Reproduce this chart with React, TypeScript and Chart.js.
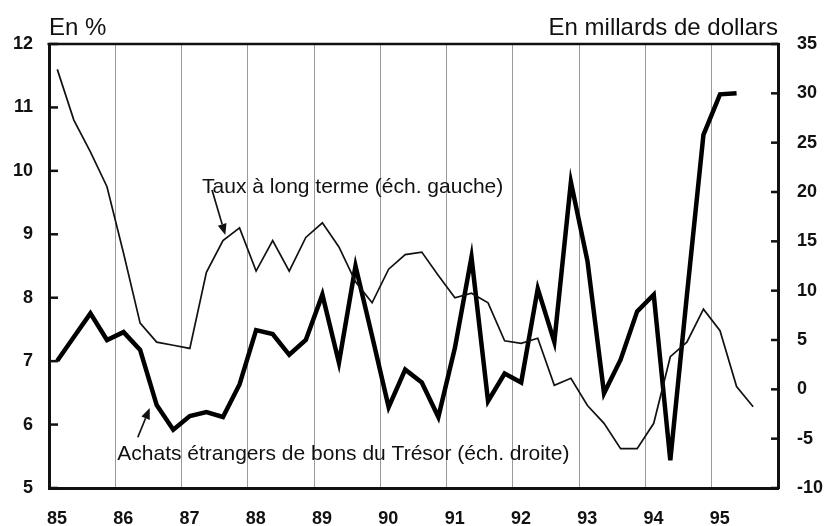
import React, { useEffect, useRef } from 'react';
import { Chart, registerables } from 'chart.js';

Chart.register(...registerables);

// Quarterly observations, 1985 T1 ... 1995 T3
const quarters = [
  '85T1', '85T2', '85T3', '85T4',
  '86T1', '86T2', '86T3', '86T4',
  '87T1', '87T2', '87T3', '87T4',
  '88T1', '88T2', '88T3', '88T4',
  '89T1', '89T2', '89T3', '89T4',
  '90T1', '90T2', '90T3', '90T4',
  '91T1', '91T2', '91T3', '91T4',
  '92T1', '92T2', '92T3', '92T4',
  '93T1', '93T2', '93T3', '93T4',
  '94T1', '94T2', '94T3', '94T4',
  '95T1', '95T2', '95T3',
];

// Taux à long terme (%), échelle de gauche
const longRate = [
  11.6, 10.8, 10.3, 9.75,
  8.7, 7.6, 7.3, 7.25,
  7.2, 8.4, 8.9, 9.1,
  8.42, 8.9, 8.42, 8.95,
  9.18, 8.8, 8.25, 7.92,
  8.45, 8.68, 8.72, 8.35,
  8.0, 8.07, 7.92, 7.32,
  7.28, 7.36, 6.62, 6.73,
  6.3, 6.02, 5.62, 5.62,
  6.02, 7.07, 7.3, 7.82,
  7.48, 6.6, 6.28,
];

// Achats étrangers de bons du Trésor (milliards de dollars), échelle de droite
const foreignPurchases = [
  2.9, 5.3, 7.7, 5.0,
  5.8, 4.0, -1.6, -4.1,
  -2.7, -2.3, -2.8, 0.5,
  6.0, 5.6, 3.5, 5.0,
  9.6, 2.7, 12.5, 5.4,
  -1.8, 2.0, 0.7, -2.8,
  4.2, 13.4, -1.2, 1.6,
  0.7, 10.2, 4.8, 21.0,
  13.0, -0.4, 3.0, 7.9,
  9.6, -7.2, 9.5, 25.8,
  29.9, 30.0,
];

const yearTicks = [85, 86, 87, 88, 89, 90, 91, 92, 93, 94, 95];
const leftTicks = [5, 6, 7, 8, 9, 10, 11, 12];
const rightTicks = [-10, -5, 0, 5, 10, 15, 20, 25, 30, 35];

const FONT = '"Liberation Sans", Arial, Helvetica, sans-serif';

function quarterToX(q: string): number {
  const yr = 1900 + parseInt(q.slice(0, 2), 10);
  const n = parseInt(q.slice(3), 10);
  return yr + (n - 0.5) / 4;
}

function drawArrow(ctx: CanvasRenderingContext2D, x1: number, y1: number, x2: number, y2: number) {
  const ang = Math.atan2(y2 - y1, x2 - x1);
  const headLen = 11;
  const headW = 4.5;
  const bx = x2 - headLen * Math.cos(ang);
  const by = y2 - headLen * Math.sin(ang);
  ctx.beginPath();
  ctx.moveTo(x1, y1);
  ctx.lineTo(bx, by);
  ctx.lineWidth = 1.7;
  ctx.stroke();
  ctx.beginPath();
  ctx.moveTo(x2, y2);
  ctx.lineTo(bx + headW * Math.sin(ang), by - headW * Math.cos(ang));
  ctx.lineTo(bx - headW * Math.sin(ang), by + headW * Math.cos(ang));
  ctx.closePath();
  ctx.fill();
}

const decorPlugin = {
  id: 'decor',
  afterDraw(chart: any) {
    const { ctx, chartArea: a, scales } = chart;
    const x = scales.x;
    const yl = scales.yL;
    const yr = scales.yR;
    ctx.save();
    ctx.strokeStyle = '#111';
    ctx.fillStyle = '#111';
    // top frame
    ctx.lineWidth = 2.5;
    ctx.beginPath();
    ctx.moveTo(a.left - 1.5, a.top);
    ctx.lineTo(a.right + 1.5, a.top);
    ctx.stroke();
    // inward tick marks
    ctx.lineWidth = 2.5;
    leftTicks.forEach((v) => {
      const y = yl.getPixelForValue(v);
      ctx.beginPath();
      ctx.moveTo(a.left, y);
      ctx.lineTo(a.left + 9, y);
      ctx.stroke();
    });
    rightTicks.forEach((v) => {
      const y = yr.getPixelForValue(v);
      ctx.beginPath();
      ctx.moveTo(a.right, y);
      ctx.lineTo(a.right - 7, y);
      ctx.stroke();
    });
    // unit titles
    ctx.font = `24px ${FONT}`;
    ctx.textBaseline = 'alphabetic';
    ctx.textAlign = 'left';
    ctx.fillText('En %', a.left, 35);
    ctx.textAlign = 'right';
    ctx.fillText('En millards de dollars', a.right, 35);
    // annotations
    ctx.font = `21px ${FONT}`;
    ctx.textAlign = 'left';
    ctx.fillText('Taux à long terme (éch. gauche)', x.getPixelForValue(1987.31), yl.getPixelForValue(9.65));
    ctx.fillText('Achats étrangers de bons du Trésor (éch. droite)', x.getPixelForValue(1986.03), yl.getPixelForValue(5.44));
    drawArrow(ctx, x.getPixelForValue(1987.46), yl.getPixelForValue(9.7), x.getPixelForValue(1987.66), yl.getPixelForValue(8.99));
    drawArrow(ctx, x.getPixelForValue(1986.34), yl.getPixelForValue(5.8), x.getPixelForValue(1986.52), yl.getPixelForValue(6.26));
    ctx.restore();
  },
};

export default function App() {
  const canvasRef = useRef<HTMLCanvasElement | null>(null);

  useEffect(() => {
    if (!canvasRef.current) return;
    const longPts = longRate.map((v, i) => ({ x: quarterToX(quarters[i]), y: v }));
    const buyPts = foreignPurchases.map((v, i) => ({ x: quarterToX(quarters[i]), y: v }));
    const tickFont = { family: FONT, size: 18, weight: 'bold' as const };

    const chart = new Chart(canvasRef.current, {
      type: 'line',
      data: {
        datasets: [
          {
            label: 'Taux à long terme (éch. gauche)',
            data: longPts,
            yAxisID: 'yL',
            borderColor: '#111',
            borderWidth: 1.7,
            pointRadius: 0,
            tension: 0,
            fill: false,
          },
          {
            label: 'Achats étrangers de bons du Trésor (éch. droite)',
            data: buyPts,
            yAxisID: 'yR',
            borderColor: '#000',
            borderWidth: 4.5,
            pointRadius: 0,
            tension: 0,
            fill: false,
          },
        ],
      },
      options: {
        responsive: false,
        animation: false,
        devicePixelRatio: 1,
        layout: { padding: { top: 44, left: 0, right: 0, bottom: 0 } },
        plugins: {
          legend: { display: false },
          tooltip: { enabled: false },
        },
        scales: {
          x: {
            type: 'linear',
            min: 1985,
            max: 1996,
            afterFit: (s: any) => { s.height = 38; },
            afterBuildTicks: (s: any) => {
              s.ticks = [...yearTicks.map((y) => ({ value: 1900 + y })), { value: 1996 }];
            },
            ticks: {
              font: tickFont,
              color: '#111',
              padding: 20,
              labelOffset: 8,
              maxRotation: 0,
              autoSkip: false,
              callback: (v: any) => (yearTicks.includes(Number(v) - 1900) ? String(Number(v) - 1900) : ''),
            },
            grid: {
              drawTicks: false,
              lineWidth: 1,
              color: (c: any) => {
                const v = c.tick ? c.tick.value : 0;
                return v > 1985 && v < 1996 ? '#9a9a9a' : 'rgba(0,0,0,0)';
              },
            },
            border: { display: true, color: '#111', width: 3 },
          },
          yL: {
            type: 'linear',
            position: 'left',
            min: 5,
            max: 12,
            afterFit: (s: any) => { s.width = 49; },
            afterBuildTicks: (s: any) => { s.ticks = leftTicks.map((v) => ({ value: v })); },
            ticks: { font: tickFont, color: '#111', padding: 16 },
            grid: { drawTicks: false, drawOnChartArea: false },
            border: { display: true, color: '#111', width: 3 },
          },
          yR: {
            type: 'linear',
            position: 'right',
            min: -10,
            max: 35,
            afterFit: (s: any) => { s.width = 47; },
            afterBuildTicks: (s: any) => { s.ticks = rightTicks.map((v) => ({ value: v })); },
            ticks: { font: tickFont, color: '#111', padding: 19 },
            grid: { drawTicks: false, drawOnChartArea: false },
            border: { display: true, color: '#111', width: 3 },
          },
        },
      },
      plugins: [decorPlugin],
    });
    return () => chart.destroy();
  }, []);

  return (
    <div style={{ position: 'fixed', left: 0, top: 0, width: 825, height: 526, background: '#fff' }}>
      <canvas ref={canvasRef} width={825} height={526} style={{ width: 825, height: 526, display: 'block' }} />
    </div>
  );
}
